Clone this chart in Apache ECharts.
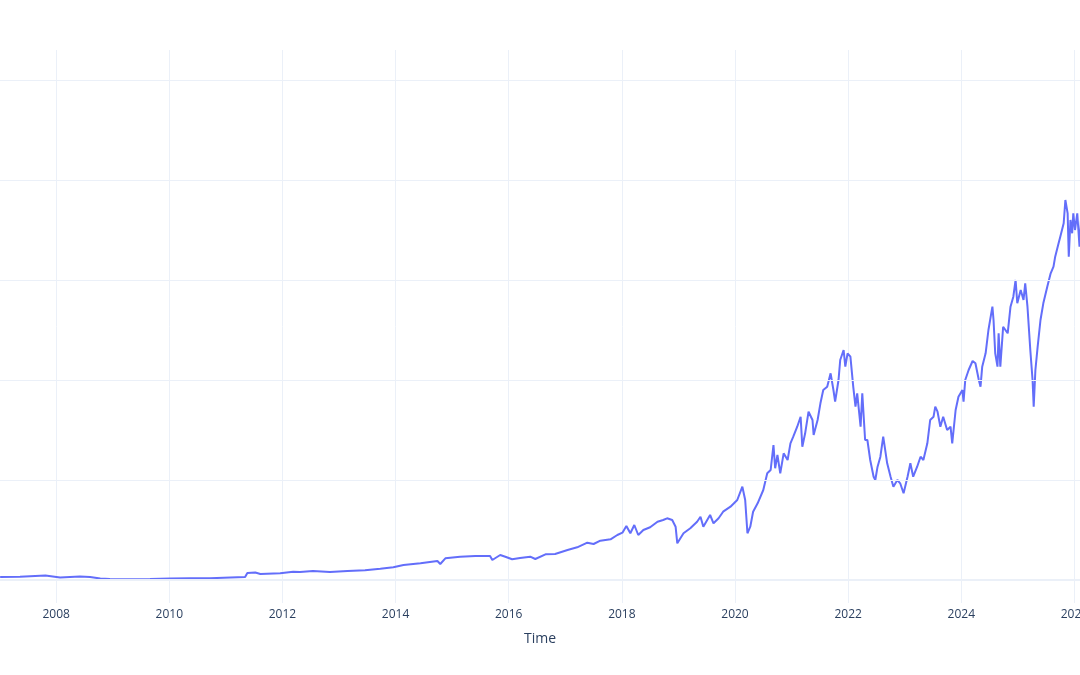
<!DOCTYPE html>
<html>
<head>
<meta charset="utf-8">
<script src="https://cdn.jsdelivr.net/npm/echarts@6/dist/echarts.min.js"></script>
<style>
html,body{margin:0;padding:0;background:#fff;overflow:hidden;width:1080px;height:675px;}
#chart{position:absolute;left:-57px;top:0;width:1188px;height:675px;}
</style>
</head>
<body>
<div id="chart"></div>
<script>
// Decimal years (time) and values
const times = [
  2007.01, 2007.36, 2007.81, 2008.07, 2008.42, 2008.60, 2008.78, 2008.95, 2009.31, 2009.66,
  2010.02, 2010.37, 2010.72, 2011.08, 2011.34, 2011.38, 2011.52, 2011.61, 2011.96, 2012.19,
  2012.31, 2012.54, 2012.84, 2013.15, 2013.46, 2013.73, 2013.96, 2014.14, 2014.44, 2014.74,
  2014.79, 2014.88, 2015.14, 2015.41, 2015.67, 2015.71, 2015.85, 2015.94, 2016.06, 2016.20,
  2016.38, 2016.47, 2016.65, 2016.82, 2017.04, 2017.21, 2017.39, 2017.50, 2017.62, 2017.80,
  2017.92, 2018.01, 2018.08, 2018.15, 2018.22, 2018.29, 2018.38, 2018.50, 2018.63, 2018.73,
  2018.80, 2018.89, 2018.95, 2018.98, 2019.09, 2019.21, 2019.33, 2019.39, 2019.44, 2019.56,
  2019.62, 2019.71, 2019.79, 2019.92, 2020.04, 2020.13, 2020.18, 2020.22, 2020.27, 2020.32,
  2020.40, 2020.50, 2020.57, 2020.63, 2020.68, 2020.71, 2020.75, 2020.80, 2020.86, 2020.93,
  2020.98, 2021.03, 2021.10, 2021.16, 2021.19, 2021.24, 2021.30, 2021.37, 2021.39, 2021.46,
  2021.51, 2021.56, 2021.63, 2021.69, 2021.74, 2021.77, 2021.83, 2021.86, 2021.92, 2021.95,
  2021.99, 2022.04, 2022.09, 2022.13, 2022.16, 2022.22, 2022.25, 2022.30, 2022.34, 2022.39,
  2022.45, 2022.48, 2022.52, 2022.57, 2022.62, 2022.69, 2022.75, 2022.80, 2022.87, 2022.92,
  2022.98, 2023.05, 2023.10, 2023.15, 2023.22, 2023.28, 2023.33, 2023.40, 2023.45, 2023.51,
  2023.54, 2023.58, 2023.63, 2023.68, 2023.75, 2023.81, 2023.84, 2023.90, 2023.95, 2024.02,
  2024.04, 2024.07, 2024.13, 2024.20, 2024.25, 2024.31, 2024.34, 2024.37, 2024.43, 2024.48,
  2024.55, 2024.57, 2024.60, 2024.64, 2024.66, 2024.69, 2024.74, 2024.82, 2024.87, 2024.92,
  2024.96, 2024.99, 2025.05, 2025.10, 2025.13, 2025.17, 2025.22, 2025.26, 2025.28, 2025.31,
  2025.35, 2025.40, 2025.45, 2025.52, 2025.58, 2025.63, 2025.66, 2025.72, 2025.75, 2025.81,
  2025.84, 2025.88, 2025.90, 2025.93, 2025.96, 2025.98, 2026.01, 2026.05, 2026.09, 2026.12
];
const values = [
  0.6, 0.66, 0.9, 0.5, 0.7, 0.6, 0.3, 0.2, 0.14, 0.2,
  0.3, 0.34, 0.34, 0.5, 0.6, 1.4, 1.5, 1.2, 1.34, 1.66,
  1.6, 1.8, 1.6, 1.8, 1.94, 2.26, 2.54, 3.0, 3.34, 3.8,
  3.2, 4.34, 4.66, 4.8, 4.8, 4.0, 5.0, 4.66, 4.14, 4.4,
  4.66, 4.2, 5.14, 5.2, 6.0, 6.54, 7.46, 7.2, 7.86, 8.14,
  9.0, 9.46, 10.8, 9.34, 11.0, 9.0, 10.0, 10.54, 11.66, 12.0,
  12.34, 12.0, 10.66, 7.34, 9.34, 10.34, 11.66, 12.66, 10.66, 13.0,
  11.34, 12.34, 13.66, 14.66, 16.0, 18.66, 16.0, 9.34, 10.66, 13.66,
  15.34, 18.0, 21.34, 22.0, 27.0, 22.34, 25.0, 21.34, 25.34, 24.0,
  27.34, 28.66, 30.66, 32.66, 26.66, 29.34, 33.66, 32.0, 29.0, 32.0,
  35.34, 38.0, 38.66, 41.34, 38.0, 35.66, 40.0, 44.0, 46.0, 42.66,
  45.34, 44.66, 38.66, 34.66, 37.34, 30.66, 37.34, 28.0, 28.0, 24.0,
  20.66, 20.0, 22.66, 24.66, 28.66, 23.34, 20.66, 18.66, 20.0, 19.34,
  17.34, 20.66, 23.34, 20.66, 22.66, 24.66, 24.0, 27.34, 32.0, 32.66,
  34.66, 33.66, 30.66, 32.66, 30.0, 30.66, 27.34, 34.0, 36.66, 38.0,
  35.66, 40.0, 42.0, 43.8, 43.34, 40.0, 38.66, 42.66, 45.34, 50.0,
  54.66, 52.0, 45.34, 42.66, 49.34, 42.66, 50.66, 49.34, 54.66, 56.66,
  60.0, 55.34, 58.0, 56.0, 59.34, 54.66, 46.0, 40.0, 34.66, 42.0,
  46.66, 52.0, 55.34, 58.66, 61.34, 62.66, 64.66, 67.34, 68.66, 71.34,
  76.0, 73.34, 64.66, 72.0, 69.34, 73.34, 70.0, 73.34, 66.66, 73.0
];
const yGridValues = [0, 20, 40, 60, 80, 100];
const xAxisTitle = 'Time';

const seriesData = times.map((t, i) => [t, values[i]]);

const chart = echarts.init(document.getElementById('chart'), null, {renderer: 'canvas'});
chart.setOption({
  backgroundColor: '#ffffff',
  animation: false,
  grid: {left: 0, right: 0, top: 50, bottom: 72, containLabel: false, outerBoundsMode: 'none'},
  xAxis: {
    type: 'value',
    min: 2006,
    max: 2027,
    interval: 2,
    name: xAxisTitle,
    nameLocation: 'middle',
    nameGap: 29,
    nameTextStyle: {fontFamily: 'Open Sans', fontSize: 14, color: '#2a3f5f', padding: [0, 0, 0, 6]},
    axisLine: {show: false},
    axisTick: {show: false},
    axisLabel: {
      margin: 6,
      fontFamily: 'Open Sans',
      fontSize: 12,
      color: '#2a3f5f',
      formatter: v => String(Math.round(v)),
      showMaxLabel: false
    },
    splitLine: {show: true, lineStyle: {color: '#EBF0F8', width: 1}}
  },
  yAxis: {
    type: 'value',
    min: -4.6,
    max: 106,
    axisLine: {show: false},
    axisTick: {show: false},
    axisLabel: {show: false},
    splitLine: {show: false}
  },
  series: [
    {
      type: 'line',
      data: [],
      z: 1,
      silent: true,
      markLine: {
        silent: true,
        symbol: ['none', 'none'],
        label: {show: false},
        animation: false,
        data: yGridValues.map(v => ({
          yAxis: v,
          lineStyle: {color: '#EBF0F8', width: v === 0 ? 2 : 1, type: 'solid'}
        }))
      }
    },
    {
      type: 'line',
      data: seriesData,
      z: 3,
      showSymbol: false,
      symbol: 'none',
      lineStyle: {color: '#636efa', width: 2},
      itemStyle: {color: '#636efa'}
    }
  ]
});
</script>
</body>
</html>
